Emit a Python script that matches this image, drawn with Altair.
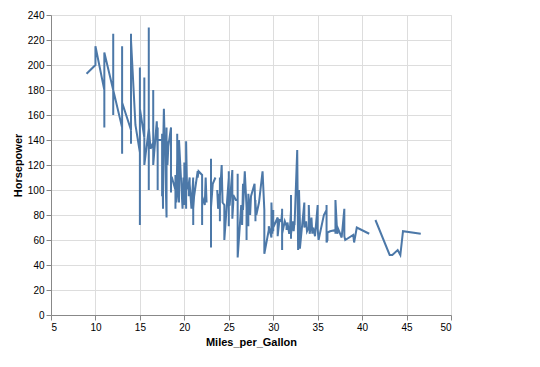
import altair as alt
import pandas as pd

# Miles per gallon and horsepower, in record order (None = missing value)
mpg = [
    18, 15, 18, 16, 17, 15, 14, 14, 14, 15, 15, 14, 15, 14, 24, 22, 18, 21, 27, 26, 25, 24, 25, 26, 21, 10, 10, 11, 9,
    27, 28, 25, 25, 19, 16, 17, 19, 18, 14, 14, 14, 14, 12, 13, 13, 18, 22, 19, 18, 23, 28, 30, 30, 31, 35, 27, 26,
    24, 25, 23, 20, 21, 13, 14, 15, 14, 17, 11, 13, 12, 13, 19, 15, 13, 13, 14, 18, 22, 21, 26, 22, 28, 23, 28, 27,
    13, 14, 13, 14, 15, 12, 13, 13, 14, 13, 12, 13, 18, 16, 18, 18, 23, 26, 11, 12, 13, 12, 18, 20, 21, 22, 18, 19, 21, 26, 15, 16, 29, 24, 20, 19, 15, 24, 20, 11,
    20, 21, 19, 15, 31, 26, 32, 25, 16, 16, 18, 16, 13, 14, 14, 14, 29, 26, 26, 31, 32, 28, 24, 26, 24, 26, 31,
    19, 18, 15, 15, 16, 15, 16, 14, 17, 16, 15, 18, 21, 20, 13, 29, 23, 20, 23, 24, 25, 24, 18, 29, 19, 23, 23, 22, 25, 33,
    28, 25, 25, 26, 27, 17.5, 16, 15.5, 14.5, 22, 22, 24, 22.5, 29, 24.5, 29, 33, 20, 18, 18.5, 17.5, 29.5, 32, 28, 26.5, 20, 13, 19, 19, 16.5, 16.5, 13, 13, 13,
    31.5, 30, 36, 25.5, 33.5, 17.5, 17, 15.5, 15, 17.5, 20.5, 19, 18.5, 16, 15.5, 15.5, 16, 29, 24.5, 26, 25.5, 30.5, 33.5, 30, 30.5, 22, 21.5, 21.5, 43.1, 36.1, 32.8, 39.4, 36.1,
    19.9, 19.4, 20.2, 19.2, 20.5, 20.2, 25.1, 20.5, 19.4, 20.6, 20.8, 18.6, 18.1, 19.2, 17.7, 18.1, 17.5, 30, 27.5, 27.2, 30.9, 21.1, 23.2, 23.8, 23.9, 20.3, 17, 21.6, 16.2, 31.5, 29.5,
    21.5, 19.8, 22.3, 20.2, 20.6, 17, 17.6, 16.5, 18.2, 16.9, 15.5, 19.2, 18.5, 31.9, 34.1, 35.7, 27.4, 25.4, 23, 27.2, 23.9, 34.2, 34.5, 31.8, 37.3, 28.4, 28.8, 26.8, 33.5,
    41.5, 38.1, 32.1, 37.2, 28, 26.4, 24.3, 19.1, 34.3, 29.8, 31.3, 37, 32.2, 46.6, 27.9, 40.8, 44.3, 43.4, 36.4, 30, 44.6, 40.9, 33.8, 29.8, 32.7, 23.7, 35, 23.6, 32.4,
    27.2, 26.6, 25.8, 23.5, 30, 39.1, 39, 35.1, 32.3, 37, 37.7, 34.1, 34.7, 34.4, 29.9, 33, 34.5, 33.7, 32.4, 32.9, 31.6, 28.1, 30.7, 25.4, 24.2, 22.4, 26.6, 20.2, 17.6,
    28, 27, 34, 31, 29, 27, 24, 23, 36, 37, 31, 38, 36, 36, 36, 34, 38, 32, 38, 25, 38, 26, 22, 32, 36, 27, 27, 44, 32, 28, 31,
]
hp = [
    130, 165, 150, 150, 140, 198, 220, 215, 225, 190, 170, 160, 150, 225, 95, 95, 97, 85, 88, 46, 87, 90, 95, 113, 90, 215, 200, 210, 193,
    88, 90, 95, None, 100, 105, 100, 88, 100, 165, 175, 153, 150, 180, 170, 175, 110, 72, 100, 88, 86, 90, 70, 76, 65, 69, 60, 70,
    95, 80, 54, 90, 86, 165, 175, 150, 153, 150, 208, 155, 160, 190, 97, 150, 130, 140, 150, 112, 76, 87, 69, 86, 92, 97, 80, 88,
    175, 150, 145, 137, 150, 198, 150, 158, 150, 215, 225, 175, 105, 100, 100, 88, 95, 46, 150, 167, 170, 180, 100, 88, 72, 94, 90, 85, 107, 90, 145, 230, 49, 75, 91, 112, 150, 110, 122, 180,
    95, None, 100, 100, 67, 80, 65, 75, 100, 110, 105, 140, 150, 150, 140, 150, 83, 67, 78, 52, 61, 75, 75, 75, 97, 93, 67,
    95, 105, 72, 72, 170, 145, 150, 148, 110, 105, 110, 95, 110, 110, 129, 75, 83, 100, 78, 96, 71, 97, 97, 70, 90, 95, 88, 98, 115, 53,
    86, 81, 92, 79, 83, 140, 150, 120, 152, 100, 105, 81, 90, 52, 60, 70, 53, 100, 78, 110, 95, 71, 70, 75, 72, 102, 150, 88, 108, 120, 180, 145, 130, 150,
    68, 80, 58, 96, 70, 145, 110, 145, 130, 110, 105, 100, 98, 180, 170, 190, 149, 78, 88, 75, 89, 63, 83, 67, 78, 97, 110, 110, 48, 66, 52, 70, 60,
    110, 140, 139, 105, 95, 85, 88, 100, 90, 105, 85, 110, 120, 145, 165, 139, 140, 68, 95, 97, 75, 95, 105, 85, 97, 103, 125, 115, 133, 71, 68,
    115, 85, 88, 90, 110, 130, 129, 138, 135, 155, 142, 125, 150, 71, 65, 80, 80, 77, 125, 71, 90, 70, 70, 65, 69, 90, 115, 115, 90,
    76, 60, 70, 65, 90, 88, 90, 90, 78, 90, 75, 92, 75, 65, 105, 65, 48, 48, 67, 67, 67, None, 67, 62, 132, 100, 88, None, 72,
    84, 84, 92, 110, 84, 58, 64, 60, 67, 65, 62, 68, 63, 65, 65, 74, None, 75, 75, 100, 74, 80, 76, 116, 120, 110, 105, 88, 85,
    88, 88, 88, 85, 84, 90, 92, None, 74, 68, 68, 63, 70, 88, 75, 70, 67, 67, 67, 110, 85, 92, 112, 96, 84, 90, 86, 52, 84, 79, 82,
]

df = pd.DataFrame({"Miles_per_Gallon": mpg, "Horsepower": hp})
# the reference joins tied x values in reverse record order
df = df.iloc[::-1].reset_index(drop=True)

chart = (
    alt.Chart(df)
    .mark_line()
    .encode(
        x=alt.X("Miles_per_Gallon:Q", scale=alt.Scale(zero=False)),
        y=alt.Y("Horsepower:Q"),
    )
    .properties(
        width=400,
        height=300,
        padding={"left": 4, "top": 2, "right": 5, "bottom": 5},
    )
    .configure(font="Liberation Sans")
    .configure_axis(labelFont="Liberation Sans", titleFont="Liberation Sans")
)

chart.save("out.html", embed_options={"renderer": "svg", "actions": False})
